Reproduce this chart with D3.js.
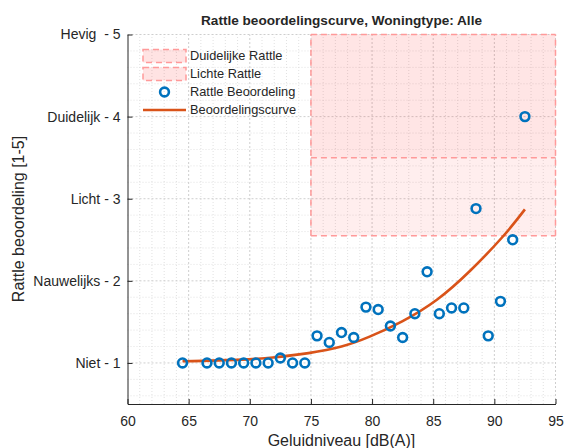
<!DOCTYPE html>
<html>
<head>
<meta charset="utf-8">
<script src="https://cdn.jsdelivr.net/npm/d3@7"></script>
<style>
  body { margin: 0; background: #fff; }
  text { font-family: "Liberation Sans", Arial, sans-serif; fill: #262626; }
</style>
</head>
<body>
<svg id="chart" width="564" height="448"></svg>
<script>
// measured points (dB(A), rating)
const pointX = [64.5, 66.5, 67.5, 68.5, 69.5, 70.5, 71.5, 72.5, 73.5, 74.5,
  75.5, 76.5, 77.5, 78.5, 79.5, 80.5, 81.5, 82.5, 83.5, 84.5,
  85.5, 86.5, 87.5, 88.5, 89.5, 90.5, 91.5, 92.5];
const pointY = [1, 1, 1, 1, 1, 1, 1, 1.06, 1, 1,
  1.33, 1.25, 1.37, 1.31, 1.68, 1.65, 1.45, 1.31, 1.6, 2.11,
  1.6, 1.67, 1.67, 2.88, 1.33, 1.75, 2.5, 4.0];
// fitted curve
const curveX = [64.5, 69.3, 72.1, 74.8, 77.5, 79.8, 82.5, 85.3, 88.0, 90.7, 92.5];
const curveY = [1.02, 1.04, 1.07, 1.12, 1.2, 1.32, 1.51, 1.77, 2.12, 2.54, 2.87];
// zones: [x0, x1, y0, y1]
const zoneClear = [75, 95, 3.5, 5];
const zoneLight = [75, 95, 2.55, 3.5];
const xTicks = [60, 65, 70, 75, 80, 85, 90, 95];
const yTicks = [1, 2, 3, 4, 5];
const yTickLabels = ["Niet - 1", "Nauwelijks - 2", "Licht - 3", "Duidelijk - 4", "Hevig  - 5"];
const legendLabels = ["Duidelijke Rattle", "Lichte Rattle", "Rattle Beoordeling", "Beoordelingscurve"];

const blue = "#0072BD", orange = "#D95319", pinkEdge = "#ff9a9a";

const svg = d3.select("#chart");
const x = d3.scaleLinear().domain([60, 95]).range([127.5, 555.5]);
const y = d3.scaleLinear().domain([0.5, 5]).range([404, 34.5]);

// grid
const grid = svg.append("g");
grid.selectAll(".gxm").data(d3.range(61, 95).filter(v => v % 5 !== 0)).join("line")
  .attr("x1", d => x(d)).attr("x2", d => x(d)).attr("y1", y(0.5)).attr("y2", y(5))
  .attr("stroke", "#d9d9d9").attr("stroke-width", 0.8).attr("stroke-dasharray", "1,2");
grid.selectAll(".gym").data(d3.range(0.6, 5, 0.2).filter(v => Math.abs(v - Math.round(v)) > 0.01)).join("line")
  .attr("x1", x(60)).attr("x2", x(95)).attr("y1", d => y(d)).attr("y2", d => y(d))
  .attr("stroke", "#d9d9d9").attr("stroke-width", 0.8).attr("stroke-dasharray", "1,2");
grid.selectAll(".gx").data(xTicks.slice(1)).join("line")
  .attr("x1", d => x(d)).attr("x2", d => x(d)).attr("y1", y(0.5)).attr("y2", y(5))
  .attr("stroke", "#c8c8c8").attr("stroke-width", 0.9).attr("stroke-dasharray", "2,2");
grid.selectAll(".gy").data(yTicks).join("line")
  .attr("x1", x(60)).attr("x2", x(95)).attr("y1", d => y(d)).attr("y2", d => y(d))
  .attr("stroke", "#c8c8c8").attr("stroke-width", 0.9).attr("stroke-dasharray", "2,2");

// zones: fill first, then dashed outlines drawn as separate edges so the shared edge stays dashed
function zoneFill(z, op) {
  svg.append("rect")
    .attr("x", x(z[0])).attr("y", y(z[3]))
    .attr("width", x(z[1]) - x(z[0])).attr("height", y(z[2]) - y(z[3]))
    .attr("fill", "#ff0000").attr("fill-opacity", op);
}
zoneFill(zoneClear, 0.1);
zoneFill(zoneLight, 0.065);
const edges = [
  [[zoneClear[0], zoneClear[3]], [zoneClear[1], zoneClear[3]]],
  [[zoneClear[0], zoneClear[2]], [zoneClear[1], zoneClear[2]]],
  [[zoneLight[0], zoneLight[2]], [zoneLight[1], zoneLight[2]]],
  [[zoneClear[0], zoneLight[2]], [zoneClear[0], zoneClear[3]]],
  [[zoneClear[1], zoneLight[2]], [zoneClear[1], zoneClear[3]]]
];
svg.append("g").selectAll("line").data(edges).join("line")
  .attr("x1", d => x(d[0][0])).attr("y1", d => y(d[0][1]))
  .attr("x2", d => x(d[1][0])).attr("y2", d => y(d[1][1]))
  .attr("stroke", pinkEdge).attr("stroke-width", 1.5).attr("stroke-dasharray", "6,4");

// axes
const xAxis = svg.append("g").attr("transform", `translate(0,${y(0.5)})`)
  .call(d3.axisBottom(x).tickValues(xTicks).tickSizeInner(-5).tickSizeOuter(0).tickPadding(12));
const yAxis = svg.append("g").attr("transform", `translate(${x(60)},0)`)
  .call(d3.axisLeft(y).tickValues(yTicks).tickFormat((d, i) => yTickLabels[i]).tickSizeInner(-5).tickSizeOuter(0).tickPadding(7));
[xAxis, yAxis].forEach(a => {
  a.select(".domain").attr("stroke", "#262626");
  a.selectAll(".tick line").attr("stroke", "#262626");
  a.selectAll("text").attr("font-size", 14).style("white-space", "pre").attr("fill", "#262626");
});

// curve
const line = d3.line().x(d => x(d[0])).y(d => y(d[1])).curve(d3.curveNatural);
svg.append("path").datum(curveX.map((v, i) => [v, curveY[i]]))
  .attr("d", line).attr("fill", "none").attr("stroke", orange).attr("stroke-width", 2.6);

// points
svg.append("g").selectAll("circle").data(pointX.map((v, i) => [v, pointY[i]])).join("circle")
  .attr("cx", d => x(d[0])).attr("cy", d => y(d[1])).attr("r", 4.4)
  .attr("fill", "none").attr("stroke", blue).attr("stroke-width", 2.6);

// legend
const lg = svg.append("g");
const rowY = [56, 74, 92, 110];
[0, 1].forEach(i => {
  lg.append("rect").attr("x", 143).attr("y", rowY[i] - 6.5).attr("width", 43).attr("height", 13)
    .attr("fill", "#ff0000").attr("fill-opacity", 0.11)
    .attr("stroke", pinkEdge).attr("stroke-width", 1.5).attr("stroke-dasharray", "6,4");
});
lg.append("circle").attr("cx", 164.5).attr("cy", rowY[2]).attr("r", 4.4)
  .attr("fill", "none").attr("stroke", blue).attr("stroke-width", 2.6);
lg.append("line").attr("x1", 143).attr("x2", 186).attr("y1", rowY[3]).attr("y2", rowY[3])
  .attr("stroke", orange).attr("stroke-width", 2.6);
lg.selectAll("text").data(legendLabels).join("text")
  .attr("x", 190).attr("y", (d, i) => rowY[i]).attr("dy", "0.35em")
  .attr("font-size", 12.8).text(d => d);

// title & labels
svg.append("text").attr("x", 341.5).attr("y", 25).attr("text-anchor", "middle")
  .attr("font-size", 13.6).attr("font-weight", "bold").attr("fill", "#000")
  .text("Rattle beoordelingscurve, Woningtype: Alle");
svg.append("text").attr("x", 341.5).attr("y", 446).attr("text-anchor", "middle")
  .attr("font-size", 16).text("Geluidniveau [dB(A)]");
svg.append("text").attr("transform", "translate(24,219) rotate(-90)").attr("text-anchor", "middle")
  .attr("font-size", 16).text("Rattle beoordeling [1-5]");
</script>
</body>
</html>
